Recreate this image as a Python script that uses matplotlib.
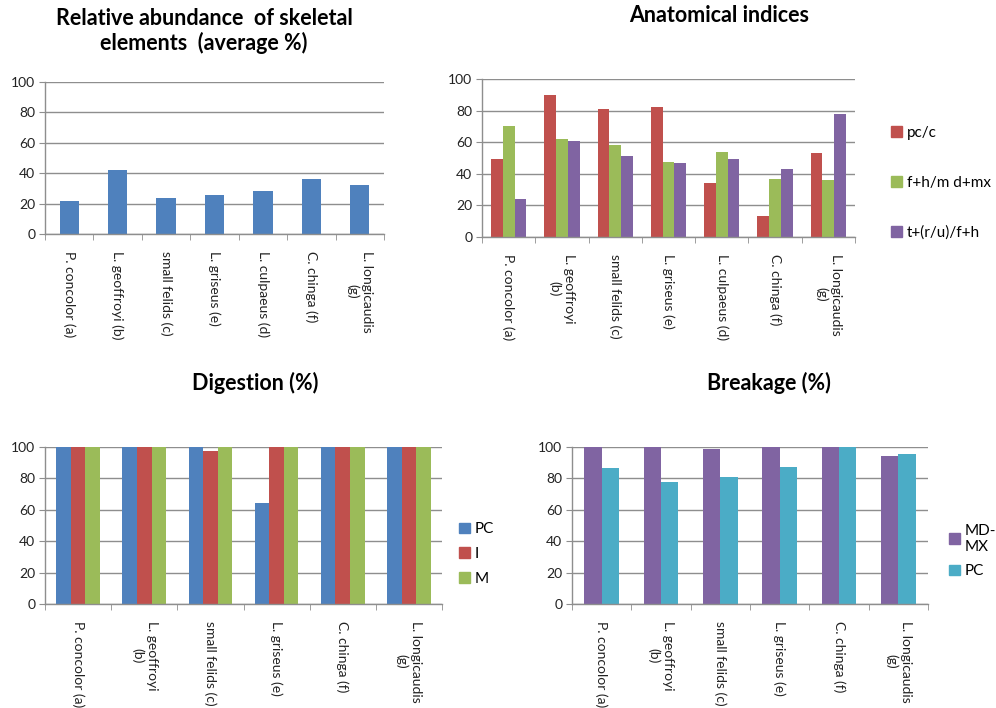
import matplotlib
matplotlib.use("Agg")
import matplotlib.pyplot as plt
import numpy as np

plt.rcParams['font.family'] = ['Lato', 'DejaVu Sans']

# ---- data ----
taxa7 = ["P. concolor (a)", "L. geoffroyi (b)", "small felids (c)", "L. griseus (e)",
         "L. culpaeus (d)", "C. chinga (f)", "L. longicaudis\n(g)"]
taxa7_b = ["P. concolor (a)", "L. geoffroyi\n(b)", "small felids (c)", "L. griseus (e)",
           "L. culpaeus (d)", "C. chinga (f)", "L. longicaudis\n(g)"]
taxa6 = ["P. concolor (a)", "L. geoffroyi\n(b)", "small felids (c)", "L. griseus (e)",
         "C. chinga (f)", "L. longicaudis\n(g)"]

abundance = [22, 42, 24, 25.5, 28.5, 36.5, 32]

pc_c = [49.5, 90, 81, 82, 34, 13, 53]
fh_mdmx = [70, 62, 58, 47.5, 53.5, 37, 36]
t_ru_fh = [24, 61, 51.5, 47, 49.5, 43, 78]

dig_pc = [100, 100, 100, 64.5, 100, 100]
dig_i = [100, 100, 97.5, 100, 100, 100]
dig_m = [100, 100, 100, 100, 100, 100]

brk_mdmx = [100, 100, 99, 100, 100, 94.5]
brk_pc = [86.5, 78, 81, 87.5, 100, 95.5]

yticks = [0, 20, 40, 60, 80, 100]

BLUE = "#4F81BD"
RED = "#C0504D"
GREEN = "#9BBB59"
PURPLE = "#8064A2"
TEAL = "#4BACC6"
GRID = "#8E8E8E"

W, H = 996, 708
fig = plt.figure(figsize=(W / 100, H / 100), dpi=100)


def px_axes(x0, x1, ytop, ybot):
    return fig.add_axes([x0 / W, 1 - ybot / H, (x1 - x0) / W, (ybot - ytop) / H])


def style(ax, labels):
    n = len(labels)
    ax.set_xlim(0, n)
    ax.set_ylim(0, 100)
    ax.set_yticks(yticks)
    ax.yaxis.grid(True, color=GRID, linewidth=1.0)
    ax.set_axisbelow(True)
    for s in ("top", "right"):
        ax.spines[s].set_visible(False)
    for s in ("left", "bottom"):
        ax.spines[s].set_color(GRID)
        ax.spines[s].set_linewidth(1.0)
    ax.tick_params(axis="y", length=4, color=GRID, labelsize=10, pad=3,
                   labelcolor="#222222")
    ax.set_xticks(np.arange(n) + 0.5)
    ax.set_xticks(np.arange(n + 1), minor=True)
    ax.tick_params(axis="x", which="major", length=0, pad=12)
    ax.tick_params(axis="x", which="minor", length=4, color=GRID)
    ax.set_xticklabels(labels, rotation=-90, ha="center", va="top",
                       multialignment="center", fontsize=10, color="#222222")


def grouped(ax, series, colors, width):
    n = len(series[0])
    k = len(series)
    x = np.arange(n) + 0.5
    for j, (vals, c) in enumerate(zip(series, colors)):
        off = (j - (k - 1) / 2) * width
        ax.bar(x + off, vals, width=width, color=c, linewidth=0)


def legend(ax, colors, names, xpx, ypx, spacing):
    handles = [plt.Rectangle((0, 0), 1, 1, color=c) for c in colors]
    fig.legend(handles, names, loc="center left",
               bbox_to_anchor=(xpx / W, 1 - ypx / H), frameon=False,
               fontsize=11, handlelength=0.7, handleheight=0.7,
               handletextpad=0.35, labelspacing=spacing, borderpad=0,
               borderaxespad=0)


TITLE_SIZE = 15.5

# Relative abundance
ax1 = px_axes(45, 384, 82, 234)
ax1.bar(np.arange(len(abundance)) + 0.5, abundance, width=0.4, color=BLUE,
        linewidth=0)
style(ax1, taxa7)
fig.text(204 / W, 1 - 31 / H, "Relative abundance  of skeletal\nelements  (average %)",
         ha="center", va="center", fontsize=TITLE_SIZE, fontweight="bold",
         linespacing=1.15)

# Anatomical indices
ax2 = px_axes(482, 855, 79, 237)
grouped(ax2, [pc_c, fh_mdmx, t_ru_fh], [RED, GREEN, PURPLE], 0.22)
style(ax2, taxa7_b)
fig.text(719 / W, 1 - 16 / H, "Anatomical indices", ha="center", va="center",
         fontsize=TITLE_SIZE, fontweight="bold")
legend(ax2, [RED, GREEN, PURPLE], ["pc/c", "f+h/m d+mx", "t+(r/u)/f+h"],
       891, 183, 2.35)

# Digestion
ax3 = px_axes(45, 442, 447, 604)
grouped(ax3, [dig_pc, dig_i, dig_m], [BLUE, RED, GREEN], 0.22)
style(ax3, taxa6)
fig.text(255 / W, 1 - 383 / H, "Digestion (%)", ha="center", va="center",
         fontsize=TITLE_SIZE, fontweight="bold")
legend(ax3, [BLUE, RED, GREEN], ["PC", "I", "M"], 459, 554, 0.7)

# Breakage
ax4 = px_axes(572, 928, 447, 604)
grouped(ax4, [brk_mdmx, brk_pc], [PURPLE, TEAL], 0.29)
style(ax4, taxa6)
fig.text(769 / W, 1 - 383 / H, "Breakage (%)", ha="center", va="center",
         fontsize=TITLE_SIZE, fontweight="bold")
legend(ax4, [PURPLE, TEAL], ["MD-\nMX", "PC"], 949, 551, 0.7)

fig.savefig("out.png", dpi=100)
